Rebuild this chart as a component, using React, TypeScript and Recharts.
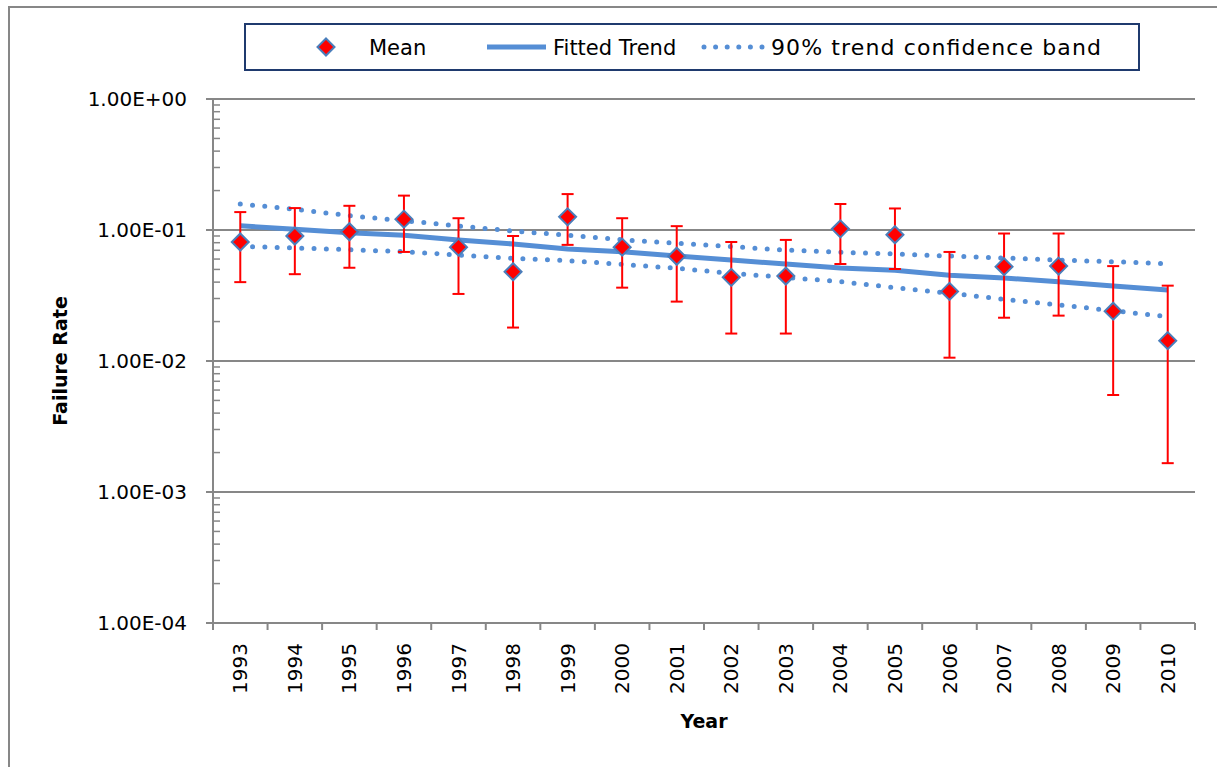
import React from 'react';
import { ComposedChart, Line, XAxis, YAxis, CartesianGrid, ErrorBar, Legend } from 'recharts';

// ---- data ----
const years = ['1993', '1994', '1995', '1996', '1997', '1998', '1999', '2000', '2001', '2002', '2003', '2004', '2005', '2006', '2007', '2008', '2009', '2010'];
const meanValues = [0.081, 0.09, 0.097, 0.121, 0.074, 0.048, 0.126, 0.074, 0.063, 0.0435, 0.0445, 0.102, 0.092, 0.034, 0.0525, 0.053, 0.024, 0.0143];
const upperBounds = [0.137, 0.147, 0.153, 0.183, 0.123, 0.09, 0.188, 0.123, 0.107, 0.081, 0.084, 0.158, 0.146, 0.068, 0.094, 0.094, 0.053, 0.0376];
const lowerBounds = [0.04, 0.046, 0.0515, 0.068, 0.0325, 0.018, 0.077, 0.0363, 0.0284, 0.0162, 0.0162, 0.055, 0.0504, 0.0106, 0.0214, 0.0222, 0.0055, 0.00166];
const fittedTrend = [0.1078, 0.1012, 0.0953, 0.0911, 0.0839, 0.0782, 0.0716, 0.0682, 0.0633, 0.059, 0.055, 0.0513, 0.0492, 0.0451, 0.043, 0.0403, 0.0374, 0.0348];
const bandUpper = [0.158, 0.144, 0.1286, 0.1178, 0.1073, 0.0983, 0.0911, 0.0843, 0.0791, 0.0746, 0.0703, 0.0676, 0.0656, 0.0633, 0.0611, 0.059, 0.0573, 0.0553];
const bandLower = [0.0751, 0.0729, 0.0708, 0.0683, 0.0645, 0.0608, 0.0583, 0.0547, 0.051, 0.0467, 0.0435, 0.0403, 0.0363, 0.0329, 0.0296, 0.0268, 0.0242, 0.0218];

const majorTicks = [0.0001, 0.001, 0.01, 0.1, 1];
const minorTicks = [
  0.0002, 0.0003, 0.0004, 0.0005, 0.0006, 0.0007, 0.0008, 0.0009,
  0.002, 0.003, 0.004, 0.005, 0.006, 0.007, 0.008, 0.009,
  0.02, 0.03, 0.04, 0.05, 0.06, 0.07, 0.08, 0.09,
  0.2, 0.3, 0.4, 0.5, 0.6, 0.7, 0.8, 0.9,
];
const allTicks = [...majorTicks, ...minorTicks].sort((a, b) => a - b);

const legendLabels = ['Mean', 'Fitted Trend', '90% trend confidence band'];
const xTitle = 'Year';
const yTitle = 'Failure Rate';

const data = years.map((year, i) => ({
  year,
  mean: meanValues[i],
  err: [meanValues[i] - lowerBounds[i], upperBounds[i] - meanValues[i]],
  trend: fittedTrend[i],
  hi: bandUpper[i],
  lo: bandLower[i],
}));

// ---- styling ----
const W = 1217;
const H = 767;
const FONT = '"DejaVu Sans", sans-serif';
const BLUE = '#558ED5';
const GRID = '#878787';
const RED = '#FF0000';
const DIAMOND_STROKE = '#4A7EBB';
const Y_TICK_SIZE = 7;
const Y_TICK_MARGIN = 19;
const X_TICK_SIZE = 7;
const X_TICK_MARGIN = 13;

const fmtExp = (v: number) => {
  const [m, ex] = v.toExponential(2).split('e');
  const n = parseInt(ex, 10);
  return `${m}E${n < 0 ? '-' : '+'}${String(Math.abs(n)).padStart(2, '0')}`;
};

const diamondPath = (cx: number, cy: number, r: number) =>
  `M${cx},${cy - r}L${cx + r},${cy}L${cx},${cy + r}L${cx - r},${cy}Z`;

const MeanDot = (props: any) => {
  const { cx, cy, index } = props;
  if (cx == null || cy == null) return <g key={`d-${index}`} />;
  return (
    <path key={`d-${index}`} d={diamondPath(cx, cy, 8.5)} fill={RED} stroke={DIAMOND_STROKE} strokeWidth={2} />
  );
};

const YTick = (props: any) => {
  const { x, y, payload } = props;
  const v = payload.value as number;
  const axisX = x + Y_TICK_SIZE + Y_TICK_MARGIN;
  const isMajor = majorTicks.some((t) => Math.abs(t - v) / t < 1e-6);
  if (isMajor) {
    return (
      <g>
        <line x1={axisX - Y_TICK_SIZE} x2={axisX} y1={y} y2={y} stroke={GRID} strokeWidth={2} />
        <text x={x} y={y} textAnchor="end" dominantBaseline="central" fontSize={20} fontFamily={FONT} fill="#000">
          {fmtExp(v)}
        </text>
      </g>
    );
  }
  return <line x1={axisX} x2={axisX + 7} y1={y} y2={y} stroke={GRID} strokeWidth={1.5} />;
};

const XTick = (props: any) => {
  const { x, y, payload, index } = props;
  const half = payload && typeof payload.offset === 'number' ? payload.offset : 0;
  const axisY = y - X_TICK_SIZE - X_TICK_MARGIN;
  return (
    <g>
      <line x1={x - half} x2={x - half} y1={axisY} y2={axisY + X_TICK_SIZE} stroke={GRID} strokeWidth={2} />
      {index === years.length - 1 && (
        <line x1={x + half} x2={x + half} y1={axisY} y2={axisY + X_TICK_SIZE} stroke={GRID} strokeWidth={2} />
      )}
      <text
        transform={`rotate(-90 ${x} ${y})`}
        x={x}
        y={y}
        textAnchor="end"
        dominantBaseline="central"
        fontSize={20}
        fontFamily={FONT}
        fill="#000"
      >
        {payload.value}
      </text>
    </g>
  );
};

const XTitle = (props: any) => {
  const vb = props.viewBox || {};
  return (
    <text x={vb.x + vb.width / 2} y={vb.y + 105} textAnchor="middle" fontSize={19} fontWeight="bold" fontFamily={FONT} fill="#000">
      {xTitle}
    </text>
  );
};

const YTitle = (props: any) => {
  const vb = props.viewBox || {};
  const cx = vb.x + 60;
  const cy = vb.y + vb.height / 2;
  return (
    <text
      transform={`rotate(-90 ${cx} ${cy})`}
      x={cx}
      y={cy}
      textAnchor="middle"
      dominantBaseline="central"
      fontSize={19}
      fontWeight="bold"
      fontFamily={FONT}
      fill="#000"
    >
      {yTitle}
    </text>
  );
};

const LegendContent = () => (
  <svg width={W} height={80} style={{ display: 'block' }}>
    <rect x={245} y={24} width={894} height={46} fill="#fff" stroke="#1F3A6E" strokeWidth={2} />
    <path d={diamondPath(326, 47, 8.5)} fill={RED} stroke={DIAMOND_STROKE} strokeWidth={2} />
    <text x={369} y={54.5} fontSize={21} fontFamily={FONT} fill="#000">{legendLabels[0]}</text>
    <line x1={487} x2={546} y1={47} y2={47} stroke={BLUE} strokeWidth={5} />
    <text x={553} y={54.5} fontSize={21} fontFamily={FONT} fill="#000">{legendLabels[1]}</text>
    <line x1={704} x2={763} y1={47} y2={47} stroke={BLUE} strokeWidth={5} strokeDasharray="0 11.6" strokeLinecap="round" />
    <text x={771} y={54.5} fontSize={22} fontFamily={FONT} fill="#000" textLength={330} lengthAdjust="spacing">
      {legendLabels[2]}
    </text>
  </svg>
);

export default function App() {
  return (
    <div style={{ position: 'absolute', left: 0, top: 0, width: W, height: H, overflow: 'hidden', background: '#fff' }}>
      <div
        style={{
          position: 'absolute',
          left: 8,
          top: 6,
          width: W - 8,
          height: H - 6,
          borderLeft: `2px solid ${GRID}`,
          borderTop: `2px solid ${GRID}`,
          boxSizing: 'border-box',
        }}
      />
      <div style={{ position: 'absolute', left: 0, top: 0 }}>
        <ComposedChart width={W} height={H} data={data} margin={{ top: 99, right: 22, bottom: 0, left: 0 }}>
          <CartesianGrid horizontal vertical={false} horizontalValues={majorTicks} stroke={GRID} strokeWidth={2} />
          <XAxis
            dataKey="year"
            type="category"
            scale="band"
            interval={0}
            height={144}
            tickLine={false}
            tickSize={X_TICK_SIZE}
            tickMargin={X_TICK_MARGIN}
            tick={XTick}
            axisLine={{ stroke: GRID, strokeWidth: 2 }}
            label={XTitle}
          />
          <YAxis
            type="number"
            scale="log"
            domain={[0.0001, 1]}
            allowDataOverflow
            ticks={allTicks}
            interval={0}
            width={213}
            tickLine={false}
            tickSize={Y_TICK_SIZE}
            tickMargin={Y_TICK_MARGIN}
            tick={YTick}
            axisLine={{ stroke: GRID, strokeWidth: 2 }}
            label={YTitle}
          />
          <Legend
            verticalAlign="middle"
            align="center"
            layout="horizontal"
            content={LegendContent}
            wrapperStyle={{ position: 'absolute', left: 0, top: 0, width: W, height: 80 }}
          />
          <Line
            dataKey="hi"
            stroke={BLUE}
            strokeWidth={5}
            strokeDasharray="0 12.3"
            strokeLinecap="round"
            dot={false}
            activeDot={false}
            isAnimationActive={false}
          />
          <Line
            dataKey="lo"
            stroke={BLUE}
            strokeWidth={5}
            strokeDasharray="0 12.3"
            strokeLinecap="round"
            dot={false}
            activeDot={false}
            isAnimationActive={false}
          />
          <Line
            dataKey="trend"
            stroke={BLUE}
            strokeWidth={5}
            dot={false}
            activeDot={false}
            isAnimationActive={false}
          />
          <Line
            dataKey="mean"
            stroke="none"
            dot={MeanDot}
            activeDot={false}
            isAnimationActive={false}
          >
            <ErrorBar dataKey="err" direction="y" width={6} stroke={RED} strokeWidth={2} />
          </Line>
        </ComposedChart>
      </div>
    </div>
  );
}
